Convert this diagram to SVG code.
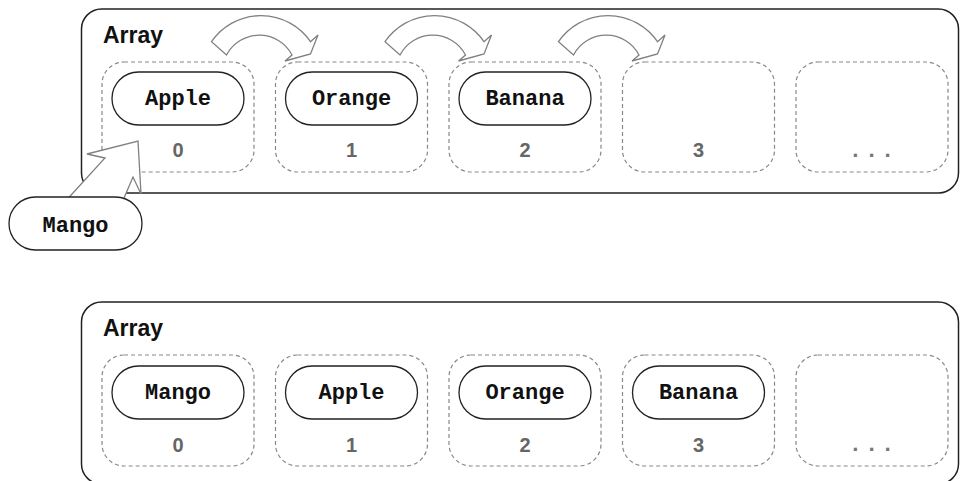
<svg xmlns="http://www.w3.org/2000/svg" width="960" height="481" viewBox="0 0 960 481">
<defs>
<style>
.box{fill:#fff;stroke:#222;stroke-width:1.5}
.cell{fill:none;stroke:#888;stroke-width:1.2;stroke-dasharray:4 3}
.pill{fill:#fff;stroke:#222;stroke-width:1.3}
.ptxt{font-family:"Liberation Mono","DejaVu Sans Mono",monospace;font-weight:bold;font-size:22px;fill:#111;text-anchor:middle}
.idx{font-family:"Liberation Sans",Arial,sans-serif;font-weight:bold;font-size:20px;fill:#666;text-anchor:middle}
.dots{font-family:"Liberation Mono",monospace;font-weight:bold;font-size:22px;fill:#777;text-anchor:middle;letter-spacing:3px}
.title{font-family:"Liberation Sans",Arial,sans-serif;font-weight:bold;font-size:23px;fill:#111}
.arr{fill:#fff;stroke:#808080;stroke-width:1.3;stroke-linejoin:miter}
</style>
<path id="curv" d="M211.5,41.7 A60,60 0 0 1 310.5,41.7 L318,35 L310.5,54 L285,61 L292,55 A37,37 0 0 0 226.5,55 Z"/>
</defs>

<g id="array-top">
<rect class="box" x="81.5" y="9" width="877" height="184" rx="20"/>
<text class="title" x="103" y="43">Array</text>
</g>
<g id="top-cell-0"><rect class="cell" x="102" y="62" width="152" height="110" rx="22"/>
<rect class="pill" x="112" y="72" width="132" height="53" rx="26.5"/><text class="ptxt" x="178" y="104.5">Apple</text><text class="idx" x="178" y="157">0</text></g>
<g id="top-cell-1"><rect class="cell" x="275.5" y="62" width="152" height="110" rx="22"/>
<rect class="pill" x="285.5" y="72" width="132" height="53" rx="26.5"/><text class="ptxt" x="351.5" y="104.5">Orange</text><text class="idx" x="351.5" y="157">1</text></g>
<g id="top-cell-2"><rect class="cell" x="449" y="62" width="152" height="110" rx="22"/>
<rect class="pill" x="459" y="72" width="132" height="53" rx="26.5"/><text class="ptxt" x="525" y="104.5">Banana</text><text class="idx" x="525" y="157">2</text></g>
<g id="top-cell-3"><rect class="cell" x="622.5" y="62" width="152" height="110" rx="22"/>
<text class="idx" x="698.5" y="157">3</text></g>
<g id="top-cell-4"><rect class="cell" x="796" y="62" width="152" height="110" rx="22"/>
<text class="dots" x="873" y="157">...</text></g>

<g id="connectors">
<use href="#curv" class="arr"/>
<use href="#curv" class="arr" transform="translate(173.5,0)"/>
<use href="#curv" class="arr" transform="translate(347,0)"/>
<path class="arr" d="M62,205 L105,158 L87,154 L138,141 L141,194 L133,177 L121,205 Z"/>
</g>

<g id="mango"><rect class="pill" x="9" y="197" width="133" height="53" rx="26.5"/><text class="ptxt" x="75.5" y="232">Mango</text></g>

<g id="array-bottom">
<rect class="box" x="81.5" y="302" width="877" height="182" rx="20"/>
<text class="title" x="103" y="336">Array</text>
</g>
<g id="bot-cell-0"><rect class="cell" x="102" y="355" width="152" height="111" rx="22"/>
<rect class="pill" x="112" y="366" width="132" height="53" rx="26.5"/><text class="ptxt" x="178" y="399">Mango</text><text class="idx" x="178" y="451.5">0</text></g>
<g id="bot-cell-1"><rect class="cell" x="275.5" y="355" width="152" height="111" rx="22"/>
<rect class="pill" x="285.5" y="366" width="132" height="53" rx="26.5"/><text class="ptxt" x="351.5" y="399">Apple</text><text class="idx" x="351.5" y="451.5">1</text></g>
<g id="bot-cell-2"><rect class="cell" x="449" y="355" width="152" height="111" rx="22"/>
<rect class="pill" x="459" y="366" width="132" height="53" rx="26.5"/><text class="ptxt" x="525" y="399">Orange</text><text class="idx" x="525" y="451.5">2</text></g>
<g id="bot-cell-3"><rect class="cell" x="622.5" y="355" width="152" height="111" rx="22"/>
<rect class="pill" x="632.5" y="366" width="132" height="53" rx="26.5"/><text class="ptxt" x="698.5" y="399">Banana</text><text class="idx" x="698.5" y="451.5">3</text></g>
<g id="bot-cell-4"><rect class="cell" x="796" y="355" width="152" height="111" rx="22"/>
<text class="dots" x="873" y="451">...</text></g>
</svg>
